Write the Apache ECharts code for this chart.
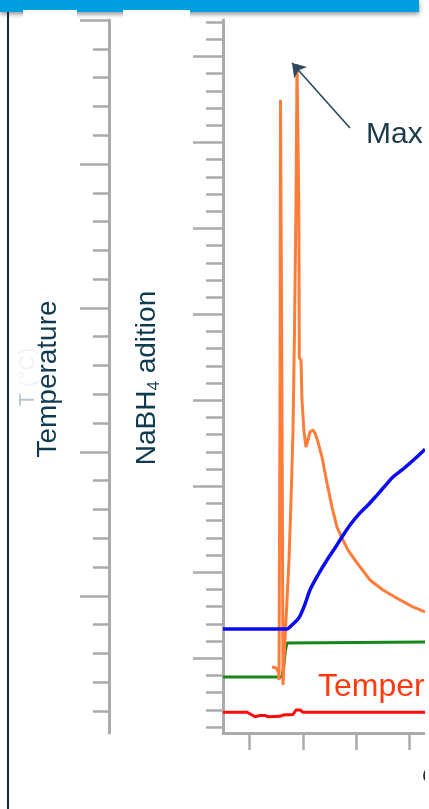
<!DOCTYPE html>
<html><head><meta charset="utf-8">
<script src="https://cdn.jsdelivr.net/npm/echarts@6/dist/echarts.min.js"></script>
<style>html,body{margin:0;padding:0;background:#fff;}#c{width:429px;height:809px;}</style>
</head><body><div id="c"></div>
<script>
// ---- tick positions ----
const timeTicks = [5, 15, 25, 35];
const nabh4MajorTicks = [4, 9, 14, 19, 24, 29, 34, 39];
const nabh4MinorTicks = [0, 1, 2, 3, 5, 6, 7, 8, 10, 11, 12, 13, 15, 16, 17, 18, 20, 21, 22, 23, 25, 26, 27, 28, 30, 31, 32, 33, 35, 36, 37, 38, 40, 41];
const tempMajorTicks = [4, 9, 14, 19, 24];
const tempMinorTicks = [0, 1, 2, 3, 5, 6, 7, 8, 10, 11, 12, 13, 15, 16, 17, 18, 20, 21, 22, 23];

// ---- series (time units / axis units) ----
const blueTime  = [0, 12.0, 12.56, 13.13, 13.88, 14.44, 15.38, 16.31, 17.81, 19.50, 21.0, 22.31, 23.82, 25.69, 27.19, 28.88, 30.38, 31.88, 33.56, 35.06, 36.56, 37.88];
const blueValue = [5.70, 5.70, 5.82, 5.99, 6.22, 6.46, 7.15, 7.97, 8.84, 9.71, 10.41, 11.05, 11.75, 12.45, 12.91, 13.49, 14.02, 14.54, 14.95, 15.35, 15.76, 16.15];

const greenTime  = [0, 11.06, 11.44, 11.72, 12.0, 12.19, 37.88];
const greenValue = [2.91, 2.91, 3.66, 4.48, 4.89, 4.94, 4.94];

const redTime  = [0, 4.5, 5.44, 6.0, 6.94, 7.88, 8.44, 10.69, 11.25, 13.13, 13.69, 14.44, 15.0, 37.88];
const redValue = [-0.045, -0.045, -0.139, -0.198, -0.156, -0.156, -0.198, -0.184, -0.139, -0.122, 0.035, 0.035, -0.045, -0.045];

const orangeTime  = [9.19, 9.94, 10.41, 10.5, 10.69, 10.78, 10.97, 11.06, 11.25, 11.53, 12.0, 12.38, 12.75, 13.13, 13.41, 13.69, 13.88, 14.12, 14.21, 14.31, 14.63, 14.81, 15.19, 15.56, 15.94, 16.31, 16.88, 17.25, 17.81, 18.56, 19.50, 20.44, 21.38, 22.31, 23.44, 25.13, 27.56, 30.0, 33.19, 35.63, 37.88];
const orangeValue = [3.49, 3.43, 3.20, 2.73, 19.02, 36.46, 36.46, 19.02, 2.44, 4.48, 7.39, 9.71, 13.20, 17.27, 23.09, 30.65, 38.56, 38.56, 30.65, 21.46, 21.34, 19.02, 17.16, 16.28, 16.69, 17.16, 17.27, 17.10, 16.57, 15.70, 14.19, 12.79, 11.63, 10.99, 10.29, 9.54, 8.55, 7.97, 7.39, 6.98, 6.69];

const maxArrow = [[23.81, 34.84], [12.94, 38.62]];

const pairs = (xs, ys) => xs.map((x, i) => [x, ys[i]]);

const AX = '#ababab';
const TXT = '#0f3b50';
const FF = '"Liberation Sans", Arial, sans-serif';

// text measuring for the subscripted axis title
const mctx = document.createElement('canvas').getContext('2d');
function tw(t, size) { mctx.font = size + 'px ' + FF; return mctx.measureText(t).width; }
const wA = tw('NaBH', 28), w4 = tw('4', 17), wB = tw(' adition', 28);
const W = wA + w4 + wB;

function yAx(min, max, ticks, len, offset, showLine) {
  return {
    type: 'value', position: 'left', min: min, max: max, offset: offset,
    axisLine: {show: showLine, onZero: false, lineStyle: {color: AX, width: 3}},
    axisTick: {show: true, customValues: ticks, length: len, lineStyle: {color: AX, width: 2.5}},
    axisLabel: {show: false}, splitLine: {show: false}
  };
}

const chart = echarts.init(document.getElementById('c'), null, {renderer: 'canvas'});
chart.setOption({
  animation: false,
  backgroundColor: '#ffffff',
  grid: {left: 223, right: 4, top: 20, bottom: 76},
  xAxis: {
    type: 'value', min: 0, max: 37.875,
    axisLine: {show: true, onZero: false, lineStyle: {color: AX, width: 3}},
    axisTick: {show: true, customValues: timeTicks, length: 17, lineStyle: {color: AX, width: 2.5}},
    axisLabel: {show: false}, splitLine: {show: false}
  },
  yAxis: [
    yAx(-0.35, 41.12, nabh4MajorTicks, 30, 0, true),
    yAx(-0.35, 41.12, nabh4MinorTicks, 17, 0, false),
    yAx(-0.764, 24, tempMajorTicks, 29, 114, true),
    yAx(-0.764, 24, tempMinorTicks, 16, 114, false)
  ],
  series: [
    {type: 'line', yAxisIndex: 0, data: pairs(greenTime, greenValue), symbol: 'none',
     lineStyle: {color: '#16881a', width: 3}, z: 2},
    {type: 'line', yAxisIndex: 2, data: pairs(redTime, redValue), symbol: 'none',
     lineStyle: {color: '#ff0a0a', width: 3}, z: 2},
    {type: 'line', yAxisIndex: 0, data: pairs(orangeTime, orangeValue), symbol: 'none',
     lineStyle: {color: '#ff7d3b', width: 3}, z: 3},
    {type: 'line', yAxisIndex: 0, data: pairs(blueTime, blueValue), symbol: 'none', smooth: 0.3,
     lineStyle: {color: '#0a0af5', width: 3.5}, z: 4,
     markLine: {silent: true, symbol: ['none', 'arrow'], symbolSize: 13, label: {show: false},
       lineStyle: {color: '#2d4b5c', width: 1.6, type: 'solid'},
       data: [[{coord: maxArrow[0]}, {coord: maxArrow[1]}]]}}
  ],
  graphic: [
    {type: 'rect', z: 50, shape: {x: 0, y: 0, width: 419, height: 12},
     style: {fill: '#00a0e0', shadowBlur: 5, shadowOffsetY: 2, shadowColor: 'rgba(0,0,0,0.45)'}},
    {type: 'rect', z: 51, shape: {x: 23, y: 10, width: 54, height: 12}, style: {fill: '#ffffff'}},
    {type: 'rect', z: 51, shape: {x: 123, y: 10, width: 67, height: 12}, style: {fill: '#ffffff'}},
    {type: 'line', z: 50, shape: {x1: 8, y1: 12, x2: 8, y2: 809}, style: {stroke: '#0d2b3a', lineWidth: 2}},
    {type: 'text', z: 50, x: 28, y: 377, rotation: Math.PI / 2,
     style: {text: '{t|T}{r| (°C)}', align: 'center', verticalAlign: 'middle',
       rich: {t: {fontSize: 22, fontFamily: FF, fill: 'rgba(15,59,80,0.3)'},
              r: {fontSize: 22, fontFamily: FF, fill: 'rgba(15,59,80,0.06)'}}}},
    {type: 'text', z: 50, x: 48, y: 379, rotation: Math.PI / 2,
     style: {text: 'Temperature', align: 'center', verticalAlign: 'middle',
       font: '28px ' + FF, fill: TXT}},
    {type: 'group', x: 147, y: 378, rotation: Math.PI / 2, children: [
      {type: 'text', z: 50, x: -W / 2, y: 0,
       style: {text: 'NaBH', align: 'left', verticalAlign: 'middle', font: '28px ' + FF, fill: TXT}},
      {type: 'text', z: 50, x: -W / 2 + wA, y: 7,
       style: {text: '4', align: 'left', verticalAlign: 'middle', font: '17px ' + FF, fill: TXT}},
      {type: 'text', z: 50, x: -W / 2 + wA + w4, y: 0,
       style: {text: ' adition', align: 'left', verticalAlign: 'middle', font: '28px ' + FF, fill: TXT}}
    ]},
    {type: 'text', z: 50, x: 366, y: 135,
     style: {text: 'Max', align: 'left', verticalAlign: 'middle', font: '30px ' + FF, fill: '#1a3a4a'}},
    {type: 'text', z: 50, x: 318, y: 687,
     style: {text: 'Temperature', align: 'left', verticalAlign: 'middle', font: '32px ' + FF, fill: '#ff3b0f'}},
    {type: 'text', z: 50, x: 422, y: 777,
     style: {text: 'C', align: 'left', verticalAlign: 'middle', font: '22px ' + FF, fill: '#1a2a33'}},
    {type: 'rect', z: 60, shape: {x: 425, y: 0, width: 4, height: 809}, style: {fill: '#ffffff'}}
  ]
});
</script></body></html>
